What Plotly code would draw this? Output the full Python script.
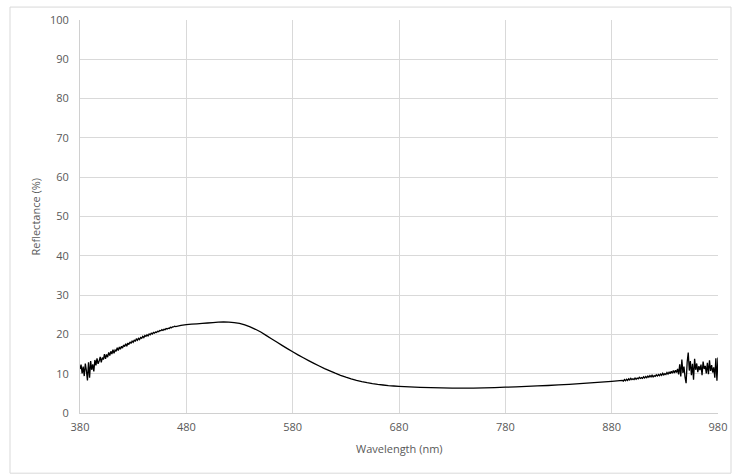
import plotly.graph_objects as go

# Reflectance spectrum (wavelength in nm, reflectance in %)
wl_blue = list(range(380, 471))
refl_blue = [
    11.2, 12.3, 10.1, 11.8, 9.4, 12.6, 10.8, 8.3, 12.9, 9.0,
    13.2, 11.0, 12.4, 10.6, 13.5, 12.1, 13.9, 12.5, 13.2, 14.3,
    12.9, 14.1, 13.6, 15.0, 13.8, 14.9, 14.2, 15.4, 14.6, 15.7,
    15.0, 16.1, 15.2, 16.0, 15.7, 16.6, 15.9, 16.8, 16.2, 17.0,
    16.5, 17.3, 16.9, 17.6, 17.0, 17.8, 17.4, 18.1, 17.7, 18.3,
    18.0, 18.6, 18.2, 18.9, 18.5, 19.0, 18.7, 19.2, 19.0, 19.5,
    19.2, 19.7, 19.5, 19.9, 19.6, 20.1, 19.9, 20.3, 20.1, 20.5,
    20.3, 20.6, 20.5, 20.8, 20.7, 21.0, 20.9, 21.2, 21.0, 21.3,
    21.2, 21.5, 21.4, 21.6, 21.5, 21.8, 21.7, 21.9, 21.9, 22.1,
    22.0,
]

wl_mid = [475, 480, 485, 490, 495, 500, 505, 510, 515, 520,
          525, 530, 535, 540, 545, 550, 555, 560, 565, 570,
          575, 580, 585, 590, 595, 600, 605, 610, 615, 620,
          625, 630, 635, 640, 645, 650, 655, 660, 665, 670,
          675, 680, 685, 690, 695, 700, 710, 720, 730, 740,
          750, 760, 770, 780, 790, 800, 810, 820, 830, 840,
          850, 860, 870, 880]
refl_mid = [22.3, 22.5, 22.6, 22.7, 22.8, 22.9, 23.0, 23.1, 23.15, 23.1,
            23.0, 22.8, 22.4, 21.9, 21.3, 20.6, 19.75, 18.9, 18.05, 17.2,
            16.38, 15.58, 14.8, 14.05, 13.33, 12.63, 11.95, 11.3, 10.7, 10.13,
            9.6, 9.12, 8.7, 8.32, 8.0, 7.72, 7.48, 7.28, 7.12, 6.98,
            6.87, 6.78, 6.7, 6.63, 6.57, 6.52, 6.44, 6.38, 6.34, 6.32,
            6.34, 6.4, 6.48, 6.56, 6.65, 6.76, 6.88, 7.0, 7.15, 7.3,
            7.48, 7.66, 7.86, 8.05]

wl_ir = list(range(890, 981))
refl_ir = [
    8.3, 8.1, 8.5, 8.2, 8.6, 8.3, 8.7, 8.4, 8.8, 8.5,
    8.7, 8.5, 8.9, 8.6, 8.9, 8.7, 9.1, 8.8, 9.0, 8.8,
    9.2, 8.9, 9.3, 9.0, 9.4, 9.1, 9.5, 9.2, 9.6, 9.2,
    9.5, 9.3, 9.7, 9.4, 9.8, 9.5, 9.9, 9.6, 10.1, 9.7,
    10.0, 9.8, 10.3, 9.9, 10.4, 10.0, 10.6, 10.1, 10.8, 10.2,
    10.9, 10.3, 11.2, 9.8, 12.4, 9.3, 13.6, 10.2, 11.8, 9.1,
    7.6, 12.9, 15.4, 10.8, 13.2, 9.6, 12.5, 8.5, 13.8, 11.0,
    12.6, 10.4, 11.9, 10.9, 12.3, 9.6, 13.1, 11.2, 12.0, 10.1,
    12.8, 9.9, 13.4, 10.7, 12.2, 10.3, 11.6, 9.0, 13.9, 8.2,
    14.1,
]

wavelength = wl_blue + wl_mid + wl_ir
reflectance = refl_blue + refl_mid + refl_ir

x_ticks = [380, 480, 580, 680, 780, 880, 980]
y_ticks = list(range(0, 101, 10))

grid = "#d9d9d9"
text_col = "#595959"
font_family = "Open Sans, Noto Sans, sans-serif"

fig = go.Figure(
    go.Scatter(
        x=wavelength,
        y=reflectance,
        mode="lines",
        line=dict(color="#000000", width=1.3, simplify=False),
        hoverinfo="skip",
    )
)

fig.update_layout(
    width=742,
    height=475,
    margin=dict(l=80, r=24, t=18, b=62),
    paper_bgcolor="white",
    plot_bgcolor="white",
    showlegend=False,
    font=dict(family=font_family, size=11, color=text_col),
)

fig.update_xaxes(
    range=[380, 980],
    tickvals=x_ticks,
    ticktext=[str(v) for v in x_ticks],
    showgrid=True,
    gridcolor=grid,
    gridwidth=1,
    zeroline=False,
    showline=True,
    linecolor="#d0d0d0",
    linewidth=1,
    mirror=False,
    ticks="",
    ticklabelstandoff=4,
    tickfont=dict(size=11, color=text_col),
)
fig.update_yaxes(
    range=[0, 100],
    tickvals=y_ticks,
    showgrid=True,
    gridcolor=grid,
    gridwidth=1,
    zeroline=False,
    showline=True,
    linecolor="#d0d0d0",
    linewidth=1,
    ticks="",
    ticklabelstandoff=8,
    tickfont=dict(size=11, color=text_col),
)

# axis titles
fig.add_annotation(
    text="Wavelength (nm)", xref="paper", yref="paper",
    x=0.5, y=-36 / 395, xanchor="center", yanchor="middle",
    showarrow=False, font=dict(size=11, color=text_col),
)
fig.add_annotation(
    text="Reflectance (%)", xref="paper", yref="paper",
    x=-45 / 638, y=0.5, xanchor="center", yanchor="middle",
    textangle=-90, showarrow=False, font=dict(size=11, color=text_col),
)

# chart frame
fig.add_shape(
    type="rect", xref="paper", yref="paper",
    x0=-70 / 638, x1=651 / 638, y0=-60.5 / 395, y1=408 / 395,
    line=dict(color="#d9d9d9", width=1), fillcolor="rgba(0,0,0,0)",
    layer="below",
)

fig.write_html("out.html")
